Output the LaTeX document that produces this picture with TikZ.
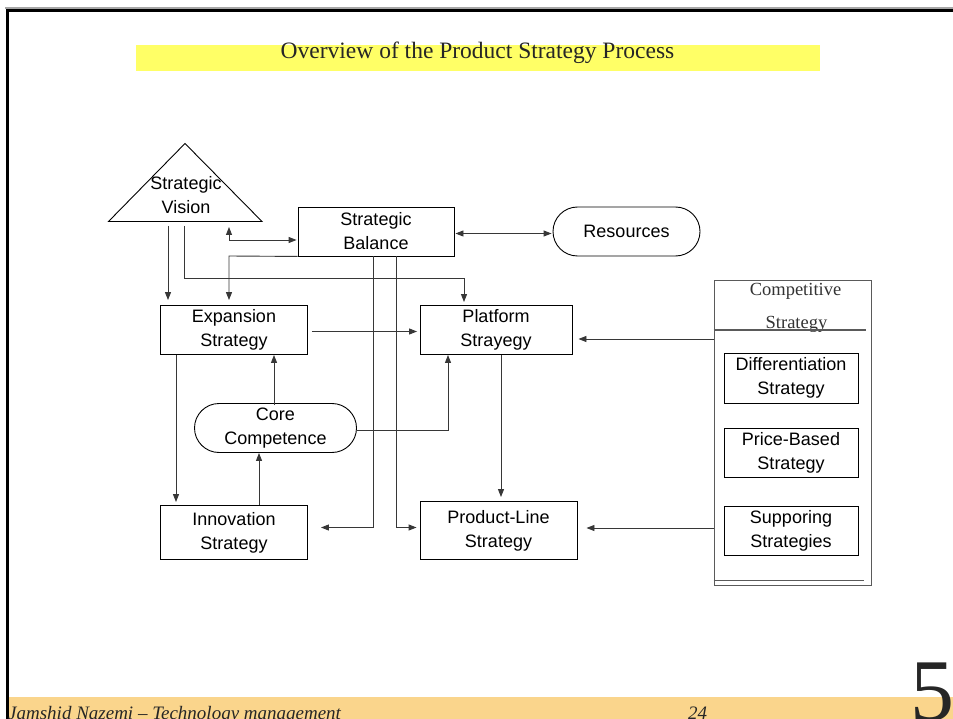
\documentclass[tikz,border=0pt]{standalone}
\usepackage{fontspec}
\setmainfont{Liberation Serif}
\setsansfont{Liberation Sans}
\usetikzlibrary{arrows.meta,shapes.misc}

\definecolor{titlebar}{RGB}{255,255,102}
\definecolor{footbar}{RGB}{250,213,140}
\definecolor{wire}{RGB}{55,55,55}
\definecolor{panel}{RGB}{90,90,90}

\newcommand{\diagfont}{\sffamily\fontsize{18}{24}\selectfont}

\begin{document}
\begin{tikzpicture}[x=1pt,y=-1pt,
  box/.style={draw=black, line width=0.9pt, align=center, font=\diagfont,
    inner sep=0pt, minimum width=#1},
  pill/.style={draw=black, line width=0.9pt, align=center, font=\diagfont,
    inner sep=0pt, rounded rectangle, minimum width=#1, minimum height=49pt},
  wireline/.style={draw=wire, line width=0.9pt},
  arr/.style={wireline, -{Triangle[length=8pt,width=6pt]}},
  dblarr/.style={wireline, {Triangle[length=8pt,width=6pt]}-{Triangle[length=8pt,width=6pt]}},
  ctext/.style={font=\rmfamily\fontsize{18.5}{22}\selectfont, text=black!80, inner sep=0pt, anchor=base}
]
\useasboundingbox (0,0) rectangle (953,719);
\fill[white] (0,0) rectangle (953,719);

% slide frame
\fill[black!35] (5,7.5) rectangle (953,9);
\fill[black] (6,9) rectangle (953,12);
\fill[black] (6,9) rectangle (9,719);

% title bar
\fill[titlebar] (136,45) rectangle (820,71);
\node[font=\rmfamily\fontsize{23.5}{26}\selectfont, text=black!85, inner sep=0pt, anchor=base] (title) at (477.5,59)
  {Overview of the Product Strategy Process};

% footer
\fill[footbar] (9,697) rectangle (953,719);
\node[font=\rmfamily\itshape\fontsize{19}{22}\selectfont, text=black!85, inner sep=0pt, anchor=base west] (author) at (8,719)
  {Jamshid Nazemi -- Technology management};
\node[font=\rmfamily\itshape\fontsize{19}{22}\selectfont, text=black!85, inner sep=0pt, anchor=base] (page) at (697.5,719) {24};
\node[font=\rmfamily\fontsize{88}{90}\selectfont, text=black!85, inner sep=0pt, anchor=base] (chapter) at (932,720) {5};

% strategic vision triangle
\draw[black, line width=0.9pt] (108.5,221.5) -- (185,143.5) -- (262,221.5) -- cycle;
\node[font=\diagfont, align=center, inner sep=0pt] (vision) at (186,195) {Strategic\\Vision};

% main boxes
\node[box=156pt, minimum height=49pt] (bal)  at (376,231.5) {Strategic\\Balance};
\node[pill=147pt] (res) at (626.5,231.5) {Resources};
\node[box=147pt, minimum height=49pt] (exp)  at (234,330) {Expansion\\Strategy};
\node[box=152pt, minimum height=49pt] (plat) at (496,330) {Platform\\Strayegy};
\node[pill=162pt] (core) at (275.5,428) {Core\\Competence};
\node[box=147pt, minimum height=54pt] (inn)  at (234,532.5) {Innovation\\Strategy};
\node[box=157pt, minimum height=58pt] (prod) at (498.5,530.5) {Product-Line\\Strategy};

% competitive strategy panel
\node[draw=panel, line width=1pt, minimum width=157pt, minimum height=304pt, inner sep=0pt] (comp) at (792.5,433) {};
\node[ctext] (compa) at (795.5,296) {Competitive};
\node[ctext] (compb) at (796.5,328.5) {Strategy};
\draw[panel, line width=1.2pt] (comp.west |- 0,330) -- (866,330);
\draw[panel, line width=1pt] (comp.west |- 0,580.5) -- (864,580.5);
\node[box=134pt, minimum height=50pt] (diff)  at (791,378) {Differentiation\\Strategy};
\node[box=134pt, minimum height=49pt] (price) at (791,452.5) {Price-Based\\Strategy};
\node[box=134pt, minimum height=49pt] (supp)  at (791,530.5) {Supporing\\Strategies};

% lanes for the orthogonal connectors
\coordinate (va) at (168,226);
\coordinate (vb) at (184,226);
\coordinate (vc) at (229,226);
\coordinate (vbturn) at (464,278);
\coordinate (vcturn) at (229,240);
\coordinate (balexp) at (229,256);
\coordinate (balinn) at (373,527.5);
\coordinate (balprod) at (396,527.5);
\coordinate (expplat) at (0,331.5);
\coordinate (expinn) at (176,0);
\coordinate (inncore) at (259,0);
\coordinate (coreexp) at (274,0);
\coordinate (coreplat) at (448,430);
\coordinate (platprod) at (501,0);
\coordinate (compplat) at (0,339);
\coordinate (compprod) at (0,528);

% connectors
\draw[arr, shorten >=5pt] (va) -- (exp.north -| va);
\draw[arr, shorten >=3pt] (vb) |- (vbturn) -- (plat.north -| vbturn);
\draw[dblarr, shorten <=1pt, shorten >=1pt] (vc) -- (vcturn) -- (vcturn -| bal.west);
\draw[arr, shorten >=5pt] (bal.south west) -- (balexp) -- (exp.north -| balexp);
\draw[dblarr, shorten <=1pt, shorten >=1pt] (bal.east |- 0,233.5) -- (res.west |- 0,233.5);
\draw[arr, shorten >=13pt] (bal.south -| balinn) -- (balinn) -- (balinn -| inn.east);
\draw[arr, shorten >=3pt] (bal.south -| balprod) -- (balprod) -- (balprod -| prod.west);
\draw[arr, shorten <=4pt, shorten >=2.5pt] (exp.east |- expplat) -- (plat.west |- expplat);
\draw[arr, shorten >=3pt] (exp.south -| expinn) -- (inn.north -| expinn);
\draw[arr] (inn.north -| inncore) -- (core.south -| inncore);
\draw[arr, shorten <=-2pt] (core.north -| coreexp) -- (exp.south -| coreexp);
\draw[arr] (core.east |- coreplat) -| (plat.south -| coreplat);
\draw[arr, shorten >=4pt] (plat.south -| platprod) -- (prod.north -| platprod);
\draw[arr, shorten >=6pt] (comp.west |- compplat) -- (plat.east |- compplat);
\draw[arr, shorten >=9pt] (comp.west |- compprod) -- (prod.east |- compprod);
\end{tikzpicture}
\end{document}
